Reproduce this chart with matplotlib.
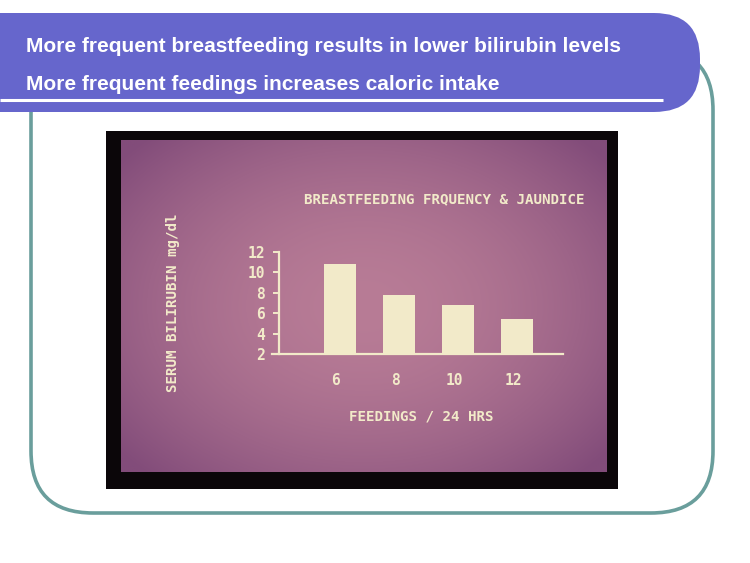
import numpy as np
import matplotlib
matplotlib.use("Agg")
import matplotlib.pyplot as plt
from matplotlib.patches import FancyBboxPatch, Rectangle
from matplotlib.transforms import ScaledTranslation

# data
feedings = ["6", "8", "10", "12"]
bilirubin = [10.8, 7.8, 6.8, 5.4]
y_ticks = [2, 4, 6, 8, 10, 12]

slide_lines = ["More frequent breastfeeding results in lower bilirubin levels",
               "More frequent feedings increases caloric intake"]
chart_title = "BREASTFEEDING FRQUENCY & JAUNDICE"
x_label = "FEEDINGS / 24 HRS"
y_label = "SERUM BILIRUBIN mg/dl"

W, H = 750, 563
cream = "#F2EAC9"
mono = ["DejaVu Sans Mono"]

fig = plt.figure(figsize=(W / 100, H / 100), dpi=100)
fig.patch.set_facecolor("white")

# background axes in pixel coordinates for the slide decoration
bg = fig.add_axes([0, 0, 1, 1])
bg.set_xlim(0, W)
bg.set_ylim(H, 0)
bg.axis("off")

# teal rounded frame
bg.add_patch(FancyBboxPatch((31, 48), 682, 465,
                            boxstyle="round,pad=0,rounding_size=62",
                            fill=False, ec="#6A9E9C", lw=2.6, zorder=1))

# blue header banner
bg.add_patch(FancyBboxPatch((-80, 13), 780, 99,
                            boxstyle="round,pad=0,rounding_size=46",
                            fc="#6666CC", ec="none", zorder=2))
bg.plot([0, 663], [99.5, 99.5], color="white", lw=2.2, zorder=3,
        solid_capstyle="butt")
for txt, yy in zip(slide_lines, [47, 85]):
    bg.text(26, yy, txt, color="white", fontsize=15, fontweight="bold",
            family="Liberation Sans", va="center", ha="left", zorder=4)

# photo: black frame with vignetted mauve screen
bg.add_patch(Rectangle((106, 131), 512, 358, fc="#0B0609", ec="none", zorder=1))
gy, gx = np.mgrid[-1:1:200j, -1:1:300j]
r = np.clip(np.sqrt((gx * 0.95) ** 2 + (gy * 0.9) ** 2), 0, 1.25)
centre = np.array([184, 124, 150]) / 255
edge = np.array([130, 76, 122]) / 255
t = (r / 1.25) ** 1.8
img = centre[None, None, :] * (1 - t[..., None]) + edge[None, None, :] * t[..., None]
bg.imshow(img, extent=[121, 607, 472, 140], aspect="auto", zorder=1.5,
          interpolation="bilinear")

# chart axes placed over the photo
x0, x1, ytop, ybot = 272, 563, 252, 354
ax = fig.add_axes([x0 / W, 1 - ybot / H, (x1 - x0) / W, (ybot - ytop) / H])
ax.patch.set_alpha(0)
pos = np.arange(len(feedings))
ax.bar(pos, bilirubin, width=0.54, bottom=0, color=cream, zorder=2)
ax.set_xlim((x0 - 340) / 59, (x1 - 340) / 59)
ax.set_ylim(2, 12)

for s in ["top", "right"]:
    ax.spines[s].set_visible(False)
ax.spines["left"].set_position(("data", (279 - 340) / 59))
ax.spines["left"].set_color(cream)
ax.spines["bottom"].set_color(cream)
ax.spines["left"].set_linewidth(1.6)
ax.spines["bottom"].set_linewidth(1.6)

ax.set_yticks(y_ticks)
ax.set_yticklabels([str(v) for v in y_ticks])
ax.set_xticks(pos)
ax.set_xticklabels(feedings)
ax.tick_params(axis="y", length=4, width=1.4, color=cream, pad=6,
               labelcolor=cream, labelsize=10.5)
ax.tick_params(axis="x", length=0, pad=14, labelcolor=cream, labelsize=10.5)
for lab in ax.get_xticklabels() + ax.get_yticklabels():
    lab.set_family(mono)
    lab.set_fontweight("bold")
for lab in ax.get_xticklabels():
    lab.set_transform(lab.get_transform() + ScaledTranslation(-4 / 100, 0, fig.dpi_scale_trans))

ax.set_xlabel(x_label, color=cream, fontsize=10.2, family=mono, fontweight="bold")
ax.xaxis.set_label_coords((421 - x0) / (x1 - x0), (ybot - 410) / (ybot - ytop))
ax.set_ylabel(y_label, color=cream, fontsize=10.2, family=mono, fontweight="bold")
ax.yaxis.set_label_coords((173 - x0) / (x1 - x0), 0.5)
ax.yaxis.label.set_va("center")
ax.text((444 - x0) / (x1 - x0), (ybot - 199) / (ybot - ytop), chart_title,
        transform=ax.transAxes, color=cream, fontsize=10.2, family=mono,
        fontweight="bold", ha="center", va="center")

fig.savefig("out.png", dpi=100)
